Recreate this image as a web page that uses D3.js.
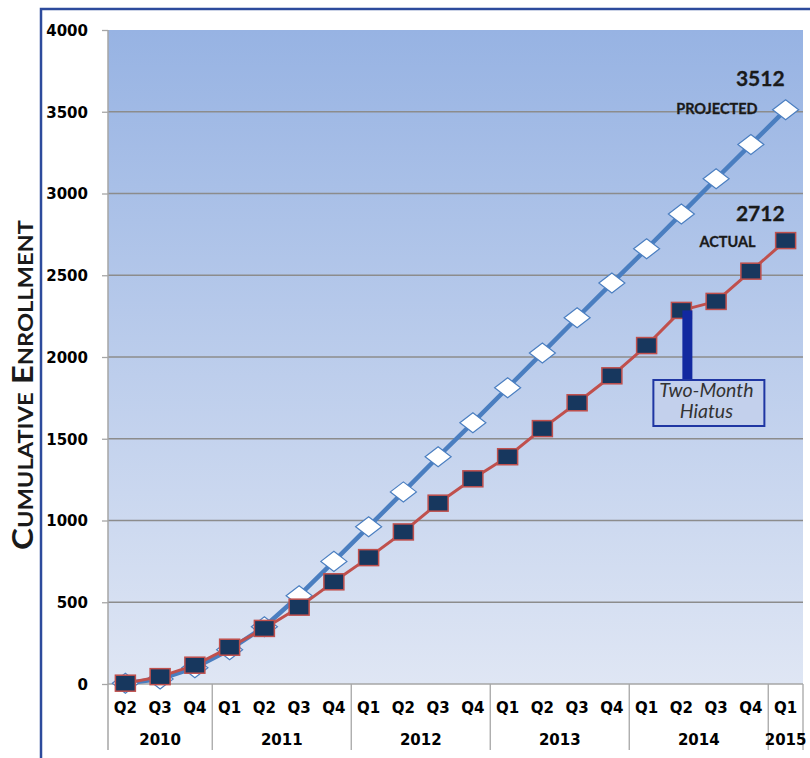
<!DOCTYPE html>
<html><head><meta charset="utf-8">
<script src="https://cdn.jsdelivr.net/npm/d3@7"></script>
<style>body{margin:0;background:#fff}svg{display:block}</style>
</head><body>
<script>
const quarterLabels = ["Q2","Q3","Q4","Q1","Q2","Q3","Q4","Q1","Q2","Q3","Q4","Q1","Q2","Q3","Q4","Q1","Q2","Q3","Q4","Q1"];
const yearLabels = ["2010","2011","2012","2013","2014","2015"];
const quartersPerYear = [3,4,4,4,4,1];
const projected = [5,30,100,210,350,540,750,962,1175,1390,1598,1812,2025,2240,2452,2662,2875,3090,3300,3512];
const actual = [5,45,115,225,340,470,625,773,930,1106,1255,1390,1562,1720,1885,2070,2285,2340,2525,2712];
const yTicks = [0,500,1000,1500,2000,2500,3000,3500,4000];

(function () {
const W = 810, H = 758;
const pLeft = 108, pRight = 803, pTop = 30, pBottom = 684;
const svg = d3.select("body").append("svg").attr("width", W).attr("height", H);

const x = d3.scaleBand().domain(d3.range(quarterLabels.length)).range([pLeft, pRight]).padding(0);
const y = d3.scaleLinear().domain([0, 4000]).range([pBottom, pTop]);
const cx = i => x(i) + x.bandwidth() / 2;

const defs = svg.append("defs");
const grad = defs.append("linearGradient").attr("id", "bg").attr("x1", 0).attr("y1", 0).attr("x2", 0).attr("y2", 1);
grad.append("stop").attr("offset", "0%").attr("stop-color", "#97b3e3");
grad.append("stop").attr("offset", "100%").attr("stop-color", "#dfe6f4");

svg.append("rect").attr("x", pLeft).attr("y", pTop).attr("width", pRight - pLeft).attr("height", pBottom - pTop).attr("fill", "url(#bg)");

// gridlines
svg.append("g").selectAll("line").data(yTicks.filter(d => d > 0 && d < 4000)).join("line")
  .attr("x1", pLeft).attr("x2", pRight).attr("y1", d => y(d)).attr("y2", d => y(d))
  .attr("stroke", "#8c8c8c").attr("stroke-width", 1.3);

// y axis
const yAxis = d3.axisLeft(y).tickValues(yTicks).tickSize(6).tickPadding(14).tickFormat(d3.format("d"));
const gy = svg.append("g").attr("transform", `translate(${pLeft},0)`).call(yAxis);
gy.select(".domain").attr("stroke", "#a6a6a6").attr("stroke-width", 1.5).attr("d", `M0,${pTop}V750`);
gy.selectAll(".tick line").attr("stroke", "#a6a6a6").attr("stroke-width", 1.3);
gy.selectAll(".tick text").attr("fill", "#000").attr("font-family", "DejaVu Sans").attr("font-weight", "bold").attr("font-size", 15).attr("dy", "0.36em");

// x axis base line
svg.append("line").attr("x1", pLeft).attr("x2", pRight).attr("y1", pBottom).attr("y2", pBottom).attr("stroke", "#a6a6a6").attr("stroke-width", 1.3);

// quarter labels
svg.append("g").selectAll("text").data(quarterLabels).join("text")
  .attr("x", (d, i) => cx(i)).attr("y", 713).attr("text-anchor", "middle")
  .attr("font-family", "DejaVu Sans").attr("font-weight", "bold").attr("font-size", 15).attr("fill", "#000")
  .text(d => d);

// year groups
let startIdx = 0;
const yearGroups = yearLabels.map((yr, k) => {
  const g = { yr, s: startIdx, e: startIdx + quartersPerYear[k] - 1 };
  startIdx += quartersPerYear[k];
  return g;
});
svg.append("g").selectAll("line").data(yearGroups).join("line")
  .attr("x1", d => x(d.e) + x.bandwidth()).attr("x2", d => x(d.e) + x.bandwidth())
  .attr("y1", pBottom).attr("y2", 750).attr("stroke", "#a6a6a6").attr("stroke-width", 1.3);
svg.append("g").selectAll("text").data(yearGroups).join("text")
  .attr("x", d => (x(d.s) + x(d.e) + x.bandwidth()) / 2).attr("y", 745).attr("text-anchor", "middle")
  .attr("font-family", "DejaVu Sans").attr("font-weight", "bold").attr("font-size", 15).attr("fill", "#000")
  .text(d => d.yr);

// projected series
const line = d3.line().x((d, i) => cx(i)).y(d => y(d));
svg.append("path").datum(projected).attr("d", line).attr("fill", "none").attr("stroke", "#4a7ec0").attr("stroke-width", 4.5).attr("stroke-linejoin", "round");
svg.append("g").selectAll("path").data(projected).join("path")
  .attr("d", (d, i) => { const X = cx(i), Y = y(d); return `M${X - 13},${Y}L${X},${Y - 10}L${X + 13},${Y}L${X},${Y + 10}Z`; })
  .attr("fill", "#fff").attr("stroke", "#4a7ec0").attr("stroke-width", 1.2);

// actual series
svg.append("path").datum(actual).attr("d", line).attr("fill", "none").attr("stroke", "#c0504d").attr("stroke-width", 3).attr("stroke-linejoin", "round");
svg.append("g").selectAll("rect").data(actual).join("rect")
  .attr("x", (d, i) => cx(i) - 10).attr("y", d => y(d) - 8).attr("width", 20).attr("height", 16)
  .attr("fill", "#17375e").attr("stroke", "#c0504d").attr("stroke-width", 1.5);

// end labels
const last = projected.length - 1;
const lx = cx(last);
const lab = (txt, xx, yy, size) => svg.append("text").attr("x", xx).attr("y", yy).attr("text-anchor", "end")
  .attr("font-family", "Lato").attr("font-weight", "bold").attr("font-size", size).attr("fill", "#1a1a1a")
  .attr("stroke", "#1a1a1a").attr("stroke-width", 0.3).text(txt);
lab(String(projected[last]), lx - 1, y(projected[last]) - 24, 21);
lab("PROJECTED", lx - 28, y(projected[last]) + 4, 14.5);
lab(String(actual[last]), lx - 1, y(actual[last]) - 20, 21);
lab("ACTUAL", lx - 30, y(actual[last]) + 6, 14.5);

// hiatus annotation
const hi = 16;
const hx = cx(hi);
const boxTop = 380, boxBottom = 426;
svg.append("rect").attr("x", hx + 1).attr("y", y(actual[hi])).attr("width", 10).attr("height", boxTop - y(actual[hi])).attr("fill", "#1229a0");
svg.append("rect").attr("x", hx - 28).attr("y", boxTop).attr("width", 111).attr("height", boxBottom - boxTop)
  .attr("fill", "#c3d0ec").attr("stroke", "#1f36a3").attr("stroke-width", 2);
const ht = svg.append("text").attr("text-anchor", "middle").attr("font-family", "Lato").attr("font-style", "italic")
  .attr("font-size", 19.5).attr("fill", "#333");
ht.append("tspan").attr("x", hx + 25).attr("y", 397).text("Two-Month");
ht.append("tspan").attr("x", hx + 25).attr("y", 418).text("Hiatus");

// y axis title
svg.append("text").attr("transform", "translate(33,385) rotate(-90)").attr("text-anchor", "middle")
  .attr("font-family", "Lato").attr("font-weight", "bold").attr("font-size", 28).attr("font-variant", "small-caps")
  .attr("fill", "#1a1a1a").attr("textLength", 330).attr("lengthAdjust", "spacingAndGlyphs")
  .text("Cumulative Enrollment");

// frame
svg.append("path").attr("d", `M41,${H}V9H${W}`).attr("fill", "none").attr("stroke", "#2d4b9c").attr("stroke-width", 2.5);
})();
</script>
</body></html>
